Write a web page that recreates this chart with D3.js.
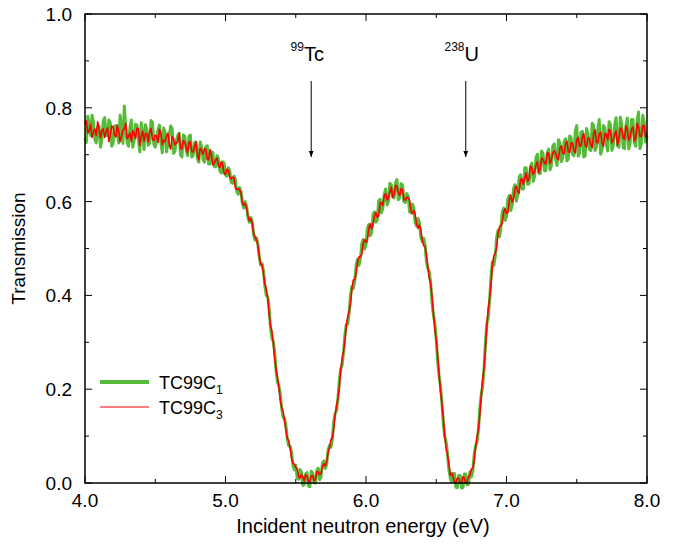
<!DOCTYPE html>
<html>
<head>
<meta charset="utf-8">
<script src="https://cdn.jsdelivr.net/npm/d3@7"></script>
<style>
  body { margin: 0; background: #fff; }
  text { font-family: "Liberation Sans", Arial, Helvetica, sans-serif; fill: #000; }
</style>
</head>
<body>
<svg id="chart" width="687" height="544"></svg>
<script>
// 能量网格 4.0 .. 8.0 eV，步长 0.01
const energy = d3.range(0, 401).map(i => +(4 + i * 0.01).toFixed(2));

// TC99C1（绿色粗线），每行 0.1 eV
const tc99c1 = [
  .735,.726,.782,.763,.741,.784,.770,.733,.725,.756,
  .760,.716,.732,.771,.779,.741,.741,.774,.768,.718,
  .724,.761,.762,.743,.725,.784,.758,.724,.804,.757,
  .725,.718,.760,.774,.716,.731,.765,.763,.733,.706,
  .768,.749,.711,.764,.754,.720,.724,.773,.769,.722,
  .716,.731,.754,.763,.727,.704,.757,.748,.706,.721,
  .742,.761,.756,.703,.707,.730,.741,.746,.700,.695,
  .742,.739,.710,.698,.739,.742,.695,.699,.726,.727,
  .692,.684,.727,.717,.690,.684,.717,.719,.680,.680,
  .706,.705,.675,.674,.698,.691,.666,.661,.685,.682,
  .657,.654,.672,.666,.642,.639,.654,.648,.622,.616,
  .630,.621,.596,.586,.600,.590,.566,.556,.566,.557,
  .530,.518,.523,.511,.483,.465,.468,.452,.421,.400,
  .398,.375,.334,.309,.302,.279,.239,.215,.207,.190,
  .159,.140,.137,.123,.094,.079,.078,.066,.038,.028,
  .038,.011,.008,.029,.024,-.005,-.004,.019,.022,-.006,
  -.008,.025,.022,.001,.000,.027,.032,.007,.013,.043,
  .047,.031,.040,.070,.080,.076,.092,.130,.148,.154,
  .178,.219,.243,.251,.278,.317,.338,.339,.362,.402,
  .419,.415,.430,.465,.477,.464,.478,.510,.519,.499,
  .508,.543,.551,.527,.534,.573,.578,.556,.560,.601,
  .605,.576,.586,.616,.627,.593,.601,.639,.636,.610,
  .608,.640,.647,.604,.609,.638,.636,.600,.598,.617,
  .612,.578,.576,.595,.587,.555,.548,.564,.555,.525,
  .515,.522,.509,.473,.457,.451,.428,.384,.358,.340,
  .307,.260,.229,.208,.172,.128,.099,.088,.063,.028,
  .010,.002,.020,.020,-.009,-.010,.016,.016,-.011,-.010,
  .019,.019,-.004,-.003,.024,.013,.025,.061,.080,.087,
  .112,.159,.188,.206,.242,.300,.339,.354,.390,.442,
  .472,.464,.483,.524,.539,.525,.543,.578,.586,.560,
  .568,.606,.613,.581,.591,.628,.636,.601,.614,.652,
  .657,.627,.627,.672,.672,.637,.638,.673,.682,.643,
  .654,.694,.701,.661,.660,.708,.702,.666,.666,.704,
  .712,.668,.678,.719,.723,.689,.677,.732,.726,.685,
  .693,.728,.734,.687,.691,.740,.736,.701,.698,.751,
  .762,.697,.704,.747,.750,.695,.698,.756,.745,.712,
  .709,.767,.762,.709,.716,.754,.775,.701,.710,.762,
  .757,.723,.708,.770,.765,.709,.720,.764,.779,.719,
  .716,.780,.765,.715,.713,.761,.778,.712,.725,.775,
  .775,.725,.718,.774,.791,.713,.724,.784,.769,.727,
  .740
];

// TC99C3（红色细线）
const tc99c3 = [
  .765,.772,.746,.751,.765,.737,.748,.755,.741,.770,
  .756,.736,.752,.755,.737,.750,.757,.728,.743,.761,
  .759,.742,.738,.763,.750,.728,.740,.753,.755,.767,
  .734,.738,.746,.728,.751,.746,.735,.757,.755,.720,
  .739,.750,.729,.745,.745,.727,.749,.756,.732,.730,
  .742,.739,.726,.754,.746,.722,.731,.728,.739,.746,
  .721,.712,.738,.735,.721,.725,.728,.745,.713,.713,
  .730,.727,.716,.704,.726,.728,.707,.706,.717,.727,
  .700,.689,.714,.709,.701,.713,.711,.690,.689,.711,
  .698,.678,.682,.689,.693,.675,.673,.685,.679,.659,
  .659,.669,.667,.653,.648,.652,.651,.630,.626,.628,
  .625,.620,.598,.592,.596,.586,.570,.559,.564,.554,
  .533,.524,.519,.507,.484,.467,.465,.447,.424,.415,
  .396,.361,.335,.324,.299,.265,.242,.225,.205,.176,
  .161,.152,.134,.112,.095,.091,.074,.053,.042,.040,
  .033,.030,.014,.010,.018,.014,.004,.017,.015,.004,
  .003,.015,.016,.005,.008,.024,.024,.018,.020,.035,
  .041,.036,.046,.064,.075,.092,.096,.115,.145,.165,
  .181,.204,.240,.266,.280,.303,.336,.355,.366,.383,
  .415,.433,.434,.447,.472,.482,.483,.488,.511,.519,
  .513,.517,.543,.553,.542,.551,.569,.577,.567,.569,
  .596,.598,.592,.613,.617,.603,.608,.620,.631,.609,
  .615,.634,.633,.619,.613,.628,.625,.603,.604,.609,
  .608,.603,.581,.574,.581,.573,.552,.543,.550,.540,
  .519,.506,.505,.486,.461,.437,.425,.398,.361,.328,
  .304,.272,.231,.196,.170,.141,.101,.075,.059,.041,
  .017,.021,.013,.001,.001,.010,.010,.000,.001,.013,
  .011,-.001,.003,.014,.017,.030,.031,.047,.075,.099,
  .116,.144,.185,.221,.245,.285,.336,.372,.395,.424,
  .466,.485,.489,.503,.532,.546,.549,.554,.578,.585,
  .575,.577,.603,.614,.599,.606,.627,.633,.621,.618,
  .647,.649,.637,.651,.661,.643,.648,.676,.672,.658,
  .663,.678,.685,.661,.671,.693,.690,.682,.680,.704,
  .703,.681,.689,.704,.708,.703,.693,.689,.714,.719,
  .703,.702,.722,.729,.706,.705,.725,.724,.709,.704,
  .731,.737,.718,.719,.737,.745,.720,.716,.736,.734,
  .721,.715,.744,.753,.727,.725,.744,.748,.725,.718,
  .745,.744,.732,.754,.750,.725,.731,.743,.751,.721,
  .734,.757,.756,.736,.733,.762,.753,.731,.738,.755,
  .759,.729,.735,.767,.759,.739,.739,.762,.762,.737,
  .745
];

const xTicks = [4.0, 5.0, 6.0, 7.0, 8.0];
const yTicks = [0.0, 0.2, 0.4, 0.6, 0.8, 1.0];
const markers = [
  { iso: "99", sym: "Tc", e: 5.61 },
  { iso: "238", sym: "U", e: 6.71 }
];
const legendItems = [
  { name: "TC99C", sub: "1", color: "#55bb38", width: 4 },
  { name: "TC99C", sub: "3", color: "#ff0000", width: 1.2 }
];

const margin = { left: 85, right: 40, top: 14, bottom: 61 };
const W = 687, H = 544;
const svg = d3.select("#chart");

const x = d3.scaleLinear().domain([4, 8]).range([margin.left, W - margin.right]);
const y = d3.scaleLinear().domain([0, 1]).range([H - margin.bottom, margin.top]);

const line = d3.line().x((d, i) => x(energy[i])).y(d => y(d));

// 数据曲线
svg.append("path").datum(tc99c1)
  .attr("d", line).attr("fill", "none")
  .attr("stroke", "#55bb38").attr("stroke-width", 3)
  .attr("stroke-linejoin", "round");
svg.append("path").datum(tc99c3)
  .attr("d", line).attr("fill", "none")
  .attr("stroke", "#ff0000").attr("stroke-width", 1.6)
  .attr("stroke-linejoin", "round");

// 坐标轴（刻度朝内，四边）
const xMinor = d3.range(4.5, 8, 1);
const yMinor = d3.range(0.1, 1, 0.2);
const axes = svg.append("g").attr("stroke", "#000");

xTicks.concat(xMinor).forEach(t => {
  const len = xTicks.includes(t) ? 7 : 4;
  axes.append("line").attr("x1", x(t)).attr("x2", x(t))
    .attr("y1", y(0)).attr("y2", y(0) - len).attr("stroke-width", 1);
  axes.append("line").attr("x1", x(t)).attr("x2", x(t))
    .attr("y1", y(1)).attr("y2", y(1) + len).attr("stroke-width", 1);
});
yTicks.concat(yMinor).forEach(t => {
  const len = yTicks.includes(t) ? 7 : 4;
  axes.append("line").attr("x1", x(4)).attr("x2", x(4) + len)
    .attr("y1", y(t)).attr("y2", y(t)).attr("stroke-width", 1);
  axes.append("line").attr("x1", x(8)).attr("x2", x(8) - len)
    .attr("y1", y(t)).attr("y2", y(t)).attr("stroke-width", 1);
});

svg.append("rect")
  .attr("x", x(4)).attr("y", y(1))
  .attr("width", x(8) - x(4)).attr("height", y(0) - y(1))
  .attr("fill", "none").attr("stroke", "#000").attr("stroke-width", 1.5);

svg.selectAll(".xl").data(xTicks).enter().append("text")
  .attr("x", d => x(d)).attr("y", y(0) + 24)
  .attr("text-anchor", "middle").attr("font-size", 19)
  .text(d => d.toFixed(1));
svg.selectAll(".yl").data(yTicks).enter().append("text")
  .attr("x", x(4) - 13).attr("y", d => y(d) + 7)
  .attr("text-anchor", "end").attr("font-size", 19)
  .text(d => d.toFixed(1));

svg.append("text")
  .attr("x", (x(4) + x(8)) / 2 - 3).attr("y", 533)
  .attr("text-anchor", "middle").attr("font-size", 20)
  .text("Incident neutron energy (eV)");
svg.append("text")
  .attr("transform", `translate(25,${(y(0) + y(1)) / 2}) rotate(-90)`)
  .attr("text-anchor", "middle").attr("font-size", 19)
  .text("Transmission");

// 共振标注箭头
svg.append("defs").append("marker")
  .attr("id", "arr").attr("viewBox", "0 0 10 10")
  .attr("refX", 10).attr("refY", 5)
  .attr("markerWidth", 6).attr("markerHeight", 6)
  .attr("orient", "auto")
  .append("path").attr("d", "M0,1 L10,5 L0,9 Z").attr("fill", "#000");

markers.forEach(m => {
  const px = x(m.e);
  svg.append("line")
    .attr("x1", px).attr("x2", px).attr("y1", 81).attr("y2", 157)
    .attr("stroke", "#000").attr("stroke-width", 1)
    .attr("marker-end", "url(#arr)");
  const t = svg.append("text").attr("x", px - 4).attr("y", 61)
    .attr("text-anchor", "middle");
  t.append("tspan").attr("font-size", 12).attr("dy", -10).text(m.iso);
  t.append("tspan").attr("font-size", 20).attr("dy", 10).text(m.sym);
});

// 图例
legendItems.forEach((d, i) => {
  const ly = 382 + i * 25;
  svg.append("line")
    .attr("x1", 100).attr("x2", 149).attr("y1", ly).attr("y2", ly)
    .attr("stroke", d.color).attr("stroke-width", d.width);
  const t = svg.append("text").attr("x", 159).attr("y", ly + 7)
    .attr("font-size", 18);
  t.append("tspan").text(d.name);
  t.append("tspan").attr("font-size", 12).attr("dy", 5).text(d.sub);
});
</script>
</body>
</html>
